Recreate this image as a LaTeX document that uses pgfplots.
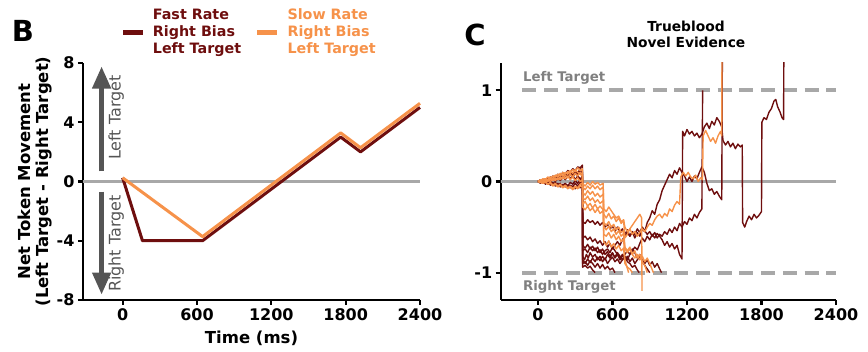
\documentclass[border=0pt]{standalone}
\usepackage{pgfplots}
\pgfplotsset{compat=1.18}
\usepackage{fontspec}
\setmainfont{DejaVu Sans}
\usetikzlibrary{arrows.meta}
\definecolor{dred}{RGB}{110,14,14}
\definecolor{lorange}{RGB}{246,146,74}
\definecolor{zgray}{RGB}{168,168,168}
\definecolor{dgray}{RGB}{85,85,85}
\definecolor{tgray}{RGB}{128,128,128}
\pgfplotsset{mystyle/.style={
  scale only axis, axis x line=bottom, axis y line=left,
  axis line style={-, line width=2.2pt, black},
  x axis line style={-}, y axis line style={-},
  tick align=outside, major tick length=5pt,
  tick style={line width=2.2pt, black},
  tick label style={font=\fontsize{16}{16}\selectfont\bfseries},
  xtick={0,600,1200,1800,2400}, xticklabels={0,600,1200,1800,2400},
  trace/.style={line width=1.4pt, line join=round},
}}
\begin{document}
\begin{tikzpicture}
% ---------------- Panel B ----------------
\begin{axis}[mystyle, at={(83pt,52pt)}, anchor=south west, width=337pt, height=237pt,
  xmin=-320, xmax=2400, ymin=-8, ymax=8, ytick={-8,-4,0,4,8}, yticklabels={-8,-4,0,4,8}, clip=false]
\draw[zgray, line width=2.2pt] (axis cs:-320,0) -- (axis cs:2400,0);
\addplot[dred, line width=3pt, line join=round] coordinates {(0,0.25) (160,-4) (645,-4) (1760,3) (1920,2) (2400,5)};
\addplot[lorange, line width=3pt, line join=round] coordinates {(0,0.25) (645,-3.72) (1760,3.28) (1920,2.28) (2400,5.28)};
\draw[dgray, line width=4.5pt, -{Triangle[width=18pt,length=22pt]}] (axis cs:-170,0.68) -- (axis cs:-170,7.76);
\draw[dgray, line width=4.5pt, -{Triangle[width=18pt,length=22pt]}] (axis cs:-170,-0.68) -- (axis cs:-170,-7.63);
\node[rotate=90, anchor=base, dgray, font=\fontsize{16}{16}\selectfont] at (axis cs:-16,4.32) {Left Target};
\node[rotate=90, anchor=base, dgray, font=\fontsize{16}{16}\selectfont] at (axis cs:-16,-4.19) {Right Target};
\node[rotate=90, align=center, font=\fontsize{16.5}{18}\selectfont\bfseries] at (rel axis cs:-0.141,0.5) {Net Token Movement\\(Left Target - Right Target)};
\node[font=\fontsize{16.5}{16.5}\selectfont\bfseries] at (rel axis cs:0.5,-0.16) {Time (ms)};
\end{axis}
% ---------------- Panel C ----------------
\begin{axis}[mystyle, at={(500.7pt,52pt)}, anchor=south west, width=335.3pt, height=237pt,
  xmin=-300, xmax=2400, ymin=-1.3, ymax=1.3, ytick={-1,0,1}, yticklabels={-1,0,1}]
\draw[zgray, line width=2.2pt] (axis cs:-300,0) -- (axis cs:2400,0);
\draw[zgray, line width=4pt, dash pattern=on 14pt off 7.7pt] (axis cs:-125,1) -- (axis cs:2400,1);
\draw[zgray, line width=4pt, dash pattern=on 14pt off 7.7pt] (axis cs:-125,-1) -- (axis cs:2400,-1);
% dark traces
\addplot[dred, trace] coordinates {(0,0) (20,0.01) (40,-0.01) (60,0.02) (80,0.0) (100,0.03) (120,0.01) (140,0.04) (160,0.02) (180,0.05) (200,0.03) (220,0.07) (240,0.05) (260,0.09) (280,0.06) (300,0.1) (320,0.08) (340,0.12) (358,0.1)
(360,-0.82) (375,-0.86) (390,-0.8) (405,-0.84) (420,-0.78) (440,-0.83) (460,-0.8) (480,-0.86) (500,-0.82) (520,-0.88) (540,-0.84) (560,-0.9) (580,-0.86) (600,-0.83) (620,-0.88) (640,-0.85) (660,-0.9) (680,-0.86) (700,-0.82) (720,-0.86) (740,-0.8) (760,-0.76) (780,-0.72) (800,-0.75) (820,-0.68) (840,-0.62) (860,-0.66) (880,-0.6) (900,-0.64) (920,-0.58) (940,-0.62) (960,-0.57) (980,-0.6) (1000,-0.64) (1020,-0.7) (1040,-0.66) (1060,-0.72) (1080,-0.68) (1100,-0.74) (1120,-0.7) (1140,-0.8) (1160,-0.85)
(1165,0.55) (1180,0.5) (1200,0.57) (1220,0.52) (1240,0.55) (1260,0.5) (1280,0.53) (1300,0.48) (1320,0.52) (1340,0.6) (1360,0.64) (1380,0.58) (1400,0.66) (1420,0.62) (1440,0.7) (1460,0.66) (1480,0.6)
(1490,0.45) (1510,0.4) (1530,0.44) (1550,0.38) (1570,0.42) (1590,0.36) (1610,0.41) (1630,0.38) (1645,0.4) (1648,-0.45) (1665,-0.5) (1680,-0.44) (1700,-0.38) (1720,-0.42) (1740,-0.36) (1760,-0.4) (1780,-0.37) (1800,-0.33)
(1803,0.65) (1820,0.7) (1840,0.68) (1860,0.76) (1880,0.8) (1900,0.88) (1915,0.9) (1930,0.82) (1950,0.76) (1965,0.7) (1978,0.68) (1980,1.4)};
\addplot[dred, trace] coordinates {(0,0) (20,-0.01) (40,0.01) (60,-0.02) (80,0.01) (100,-0.01) (120,0.03) (140,0.0) (160,0.04) (180,0.01) (200,0.05) (220,0.02) (240,0.06) (260,0.03) (280,0.07) (300,0.02) (320,0.06) (340,0.03) (358,0.05)
(360,-0.44) (380,-0.46) (400,-0.42) (420,-0.45) (440,-0.43) (460,-0.47) (480,-0.44) (500,-0.48) (520,-0.45) (540,-0.5) (560,-0.47) (580,-0.52) (600,-0.49) (620,-0.55) (640,-0.5) (660,-0.56) (680,-0.52) (700,-0.58) (720,-0.53) (740,-0.6) (760,-0.55) (780,-0.62) (800,-0.56) (820,-0.6) (840,-0.52) (860,-0.55) (880,-0.45) (900,-0.4) (920,-0.32) (940,-0.36) (960,-0.25) (980,-0.2) (1000,-0.1) (1020,-0.04) (1040,0.02) (1060,0.08) (1080,0.04) (1100,0.12) (1120,0.08) (1140,0.15) (1160,0.1) (1180,0.06) (1200,0.0) (1220,0.05) (1240,0.0) (1260,0.06) (1280,0.03) (1300,0.1) (1320,0.16) (1340,0.1) (1360,-0.02) (1380,-0.1) (1400,-0.08) (1420,-0.14) (1440,-0.11) (1460,-0.16) (1480,-0.2) (1485,1.4)};
\addplot[dred, trace] coordinates {(0,0) (20,0.01) (40,-0.02) (60,0.0) (80,-0.03) (100,0.01) (120,-0.04) (140,-0.01) (160,-0.05) (180,-0.02) (200,-0.06) (220,-0.03) (240,-0.07) (260,-0.04) (280,-0.06) (300,-0.02) (320,-0.05) (340,-0.01) (358,-0.03)
(360,-0.62) (380,-0.6) (400,-0.64) (420,-0.61) (440,-0.66) (460,-0.63) (480,-0.68) (500,-0.65) (520,-0.7) (540,-0.66) (560,-0.72) (580,-0.68) (600,-0.74) (620,-0.7) (640,-0.66) (660,-0.7) (680,-0.64) (700,-0.6) (720,-0.56) (740,-0.6) (760,-0.55) (780,-0.58) (800,-0.52) (820,-0.56) (840,-0.5) (860,-0.54) (880,-0.58) (900,-0.55) (920,-0.6) (940,-0.56) (960,-0.62) (980,-0.58) (1000,-0.6) (1020,-0.55) (1040,-0.58) (1060,-0.52) (1080,-0.56) (1100,-0.5) (1120,-0.54) (1140,-0.46) (1160,-0.5) (1180,-0.44) (1200,-0.47) (1220,-0.4) (1240,-0.43) (1260,-0.36) (1280,-0.4) (1300,-0.34) (1320,-0.3) (1326,1.0)};
\addplot[dred, trace] coordinates {(0,0) (20,0.02) (40,0.0) (60,0.03) (80,0.01) (100,0.05) (120,0.02) (140,0.06) (160,0.04) (180,0.08) (200,0.05) (220,0.09) (240,0.06) (260,0.1) (280,0.08) (300,0.12) (320,0.09) (340,0.14) (358,0.12)
(360,-0.76) (380,-0.74) (400,-0.78) (420,-0.72) (440,-0.76) (460,-0.73) (480,-0.78) (500,-0.75) (520,-0.8) (540,-0.76) (560,-0.74) (580,-0.78) (600,-0.72) (620,-0.76) (640,-0.8) (660,-0.84) (680,-0.8) (700,-0.86) (720,-0.82) (740,-0.88) (760,-0.84) (780,-0.9) (800,-0.86) (820,-0.82) (840,-0.86) (860,-0.9) (880,-0.86) (900,-0.92) (920,-0.88) (940,-0.94) (960,-0.9) (980,-0.96) (995,-1.0)};
\addplot[dred, trace] coordinates {(0,0) (20,0.0) (40,0.02) (60,0.01) (80,0.04) (100,0.02) (120,0.06) (140,0.04) (160,0.08) (180,0.06) (200,0.1) (220,0.08) (240,0.12) (260,0.1) (280,0.14) (300,0.12) (320,0.16) (340,0.15) (358,0.18)
(360,-0.9) (380,-0.88) (400,-0.92) (420,-0.87) (440,-0.9) (460,-0.94) (480,-0.9) (500,-0.95) (520,-0.91) (540,-0.96) (560,-0.93) (580,-0.97) (600,-0.95) (620,-1.0)};
\addplot[dred, trace] coordinates {(0,0) (20,-0.01) (40,0.0) (60,-0.02) (80,0.0) (100,-0.03) (120,-0.01) (140,-0.04) (160,-0.02) (180,-0.05) (200,-0.03) (220,-0.06) (240,-0.04) (260,-0.07) (280,-0.05) (300,-0.08) (320,-0.05) (340,-0.07) (358,-0.04)
(360,-0.86) (380,-0.9) (400,-0.85) (420,-0.89) (440,-0.84) (460,-0.88) (480,-0.83) (500,-0.87) (520,-0.82) (540,-0.86) (560,-0.8) (580,-0.84) (600,-0.79) (620,-0.83) (640,-0.78) (660,-0.82) (680,-0.86) (700,-0.82) (720,-0.88) (740,-0.9) (760,-0.94) (780,-0.92) (800,-0.97) (815,-1.0)};
\addplot[dred, trace] coordinates {(0,0) (20,0.01) (40,0.0) (60,0.02) (80,0.01) (100,0.03) (120,0.02) (140,0.04) (160,0.02) (180,0.05) (200,0.04) (220,0.06) (240,0.05) (260,0.07) (280,0.06) (300,0.08) (320,0.07) (340,0.09) (358,0.08)
(360,-0.94) (380,-0.92) (400,-0.95) (420,-0.93) (440,-0.97) (460,-1.0)};
\addplot[dred, trace] coordinates {(0,0) (20,-0.02) (40,0.01) (60,-0.03) (80,0.0) (100,-0.04) (120,-0.02) (140,-0.05) (160,-0.03) (180,-0.06) (200,-0.04) (220,-0.02) (240,-0.05) (260,-0.01) (280,-0.03) (300,0.01) (320,-0.02) (340,0.02) (358,0.03)
(360,-0.7) (380,-0.73) (400,-0.69) (420,-0.74) (440,-0.71) (460,-0.76) (480,-0.72) (500,-0.78) (520,-0.74) (540,-0.8) (560,-0.77) (580,-0.82) (600,-0.78) (620,-0.84) (640,-0.8) (660,-0.86) (680,-0.82) (700,-0.8) (720,-0.76) (740,-0.8) (760,-0.74) (780,-0.78) (800,-0.84) (820,-0.8) (840,-0.88) (860,-0.92) (880,-0.96) (900,-1.0)};
% orange traces
\addplot[lorange, trace] coordinates {(0,0) (20,0.01) (40,-0.01) (60,0.02) (80,0.0) (100,0.03) (120,0.01) (140,0.04) (160,0.02) (180,0.05) (200,0.03) (220,0.07) (240,0.04) (260,0.08) (280,0.05) (300,0.09) (320,0.06) (340,0.1) (358,0.08)
(360,-0.02) (380,-0.05) (400,-0.01) (420,-0.04) (440,0.0) (460,-0.03) (480,-0.01) (500,-0.04) (525,-0.02) (530,-0.3) (550,-0.33) (570,-0.28) (590,-0.32) (610,-0.36) (630,-0.4) (650,-0.38) (670,-0.44) (690,-0.42) (700,-0.5) (720,-0.55) (740,-0.52) (760,-0.58) (780,-0.55) (800,-0.6) (820,-0.56) (840,-0.52) (860,-0.55) (880,-0.5) (900,-0.46) (920,-0.48) (940,-0.42) (960,-0.38) (980,-0.36) (1000,-0.4) (1020,-0.35) (1040,-0.38) (1060,-0.3) (1080,-0.33) (1100,-0.26) (1120,-0.22) (1140,-0.25)
(1150,0.05) (1170,0.1) (1190,0.06) (1210,0.1) (1230,0.05) (1250,0.03) (1270,0.07) (1290,0.0) (1310,0.04) (1325,0.02) (1330,0.5) (1350,0.56) (1370,0.5) (1390,0.44) (1410,0.48) (1430,0.42) (1450,0.5) (1470,0.55) (1480,0.5) (1482,1.4)};
\addplot[lorange, trace] coordinates {(0,0) (20,-0.01) (40,0.01) (60,-0.01) (80,0.02) (100,0.0) (120,0.03) (140,0.01) (160,0.04) (180,0.02) (200,0.05) (220,0.03) (240,0.06) (260,0.02) (280,0.05) (300,0.01) (320,0.04) (340,0.0) (358,0.02)
(360,-0.12) (380,-0.15) (400,-0.1) (420,-0.14) (440,-0.11) (460,-0.16) (480,-0.13) (500,-0.17) (525,-0.14) (530,-0.45) (550,-0.48) (570,-0.44) (590,-0.5) (610,-0.47) (630,-0.53) (650,-0.5) (670,-0.56) (690,-0.54) (700,-0.72) (720,-0.76) (740,-0.72) (760,-0.8) (780,-0.76) (800,-0.84) (820,-0.8) (840,-0.88) (860,-0.92) (880,-1.0)};
\addplot[lorange, trace] coordinates {(0,0) (20,0.02) (40,0.01) (60,0.03) (80,0.02) (100,0.05) (120,0.03) (140,0.07) (160,0.05) (180,0.09) (200,0.06) (220,0.1) (240,0.08) (260,0.12) (280,0.09) (300,0.13) (320,0.1) (340,0.08) (358,0.06)
(360,-0.25) (380,-0.22) (400,-0.27) (420,-0.24) (440,-0.29) (460,-0.25) (480,-0.3) (500,-0.27) (525,-0.31) (530,-0.58) (550,-0.6) (570,-0.56) (590,-0.62) (610,-0.58) (630,-0.64) (650,-0.6) (670,-0.66) (690,-0.63) (700,-0.86) (715,-0.93) (730,-1.0)};
\addplot[lorange, trace] coordinates {(0,0) (20,-0.01) (40,-0.02) (60,0.0) (80,-0.03) (100,-0.01) (120,-0.04) (140,-0.02) (160,-0.05) (180,-0.03) (200,-0.06) (220,-0.04) (240,-0.07) (260,-0.05) (280,-0.08) (300,-0.05) (320,-0.07) (340,-0.03) (358,-0.02)
(360,-0.06) (380,-0.09) (400,-0.05) (420,-0.08) (440,-0.04) (460,-0.08) (480,-0.05) (500,-0.09) (525,-0.06) (530,-0.36) (550,-0.4) (570,-0.35) (590,-0.41) (610,-0.38) (630,-0.44) (650,-0.4) (670,-0.46) (690,-0.43) (700,-0.62) (720,-0.58) (740,-0.52) (760,-0.48) (780,-0.44) (800,-0.4) (820,-0.36) (835,-0.4) (838,-1.2)};
\addplot[lorange, trace] coordinates {(0,0) (20,0.01) (40,0.03) (60,0.02) (80,0.05) (100,0.03) (120,0.06) (140,0.05) (160,0.08) (180,0.06) (200,0.1) (220,0.08) (240,0.11) (260,0.09) (280,0.13) (300,0.11) (320,0.15) (340,0.12) (358,0.14)
(360,-0.18) (380,-0.2) (400,-0.16) (420,-0.21) (440,-0.18) (460,-0.23) (480,-0.2) (500,-0.24) (525,-0.21) (530,-0.5) (550,-0.53) (570,-0.49) (590,-0.55) (610,-0.52) (630,-0.58) (650,-0.54) (670,-0.6) (690,-0.57) (700,-0.74) (720,-0.78) (740,-0.74) (760,-0.8) (780,-0.84) (800,-0.8) (820,-0.86) (840,-0.82) (860,-0.88) (880,-0.84) (900,-0.9) (915,-0.95) (930,-1.0)};
\addplot[lorange, trace] coordinates {(0,0) (20,0.0) (40,-0.02) (60,-0.01) (80,-0.03) (100,-0.02) (120,-0.05) (140,-0.03) (160,-0.06) (180,-0.04) (200,-0.07) (220,-0.05) (240,-0.08) (260,-0.06) (280,-0.09) (300,-0.06) (320,-0.08) (340,-0.05) (358,-0.05)
(360,-0.28) (380,-0.31) (400,-0.27) (420,-0.32) (440,-0.29) (460,-0.34) (480,-0.3) (500,-0.35) (525,-0.32) (530,-0.66) (550,-0.7) (570,-0.65) (590,-0.72) (610,-0.68) (630,-0.74) (650,-0.7) (670,-0.76) (690,-0.73) (700,-0.9) (720,-0.94) (740,-0.96) (760,-1.0)};
\node[anchor=base west, tgray, font=\fontsize{13.3}{13.3}\selectfont\bfseries] at (axis cs:-148,1.101) {Left Target};
\node[anchor=base west, tgray, font=\fontsize{13.3}{13.3}\selectfont\bfseries] at (axis cs:-148,-1.2) {Right Target};
\node[rotate=90, font=\fontsize{16.5}{16.5}\selectfont\bfseries] at (rel axis cs:-0.0975,0.5) {Decision Variable (a.u.)};
\node[font=\fontsize{16.5}{16.5}\selectfont\bfseries] at (rel axis cs:0.5,-0.16) {Time (ms)};
\end{axis}
% ---------------- annotations ----------------
\node[font=\fontsize{29}{29}\selectfont\bfseries] at (23pt,321pt) {B};
\node[font=\fontsize{29}{29}\selectfont\bfseries] at (475pt,317pt) {C};
\draw[dred, line width=5pt] (123pt,319.5pt) -- (143pt,319.5pt);
\node[anchor=west, align=left, inner sep=0pt, dred, font=\fontsize{14.3}{17}\selectfont\bfseries] at (152.7pt,319.5pt) {Fast Rate\\Right Bias\\Left Target};
\draw[lorange, line width=5pt] (257pt,319.5pt) -- (277pt,319.5pt);
\node[anchor=west, align=left, inner sep=0pt, lorange, font=\fontsize{14.3}{17}\selectfont\bfseries] at (287.3pt,319.5pt) {Slow Rate\\Right Bias\\Left Target};
\node[align=center, font=\fontsize{13.8}{15.6}\selectfont\bfseries] at (686pt,317.5pt) {Trueblood\\Novel Evidence};
\pgfresetboundingbox
\path[use as bounding box] (0,0) rectangle (868pt,352pt);
\end{tikzpicture}
\end{document}
